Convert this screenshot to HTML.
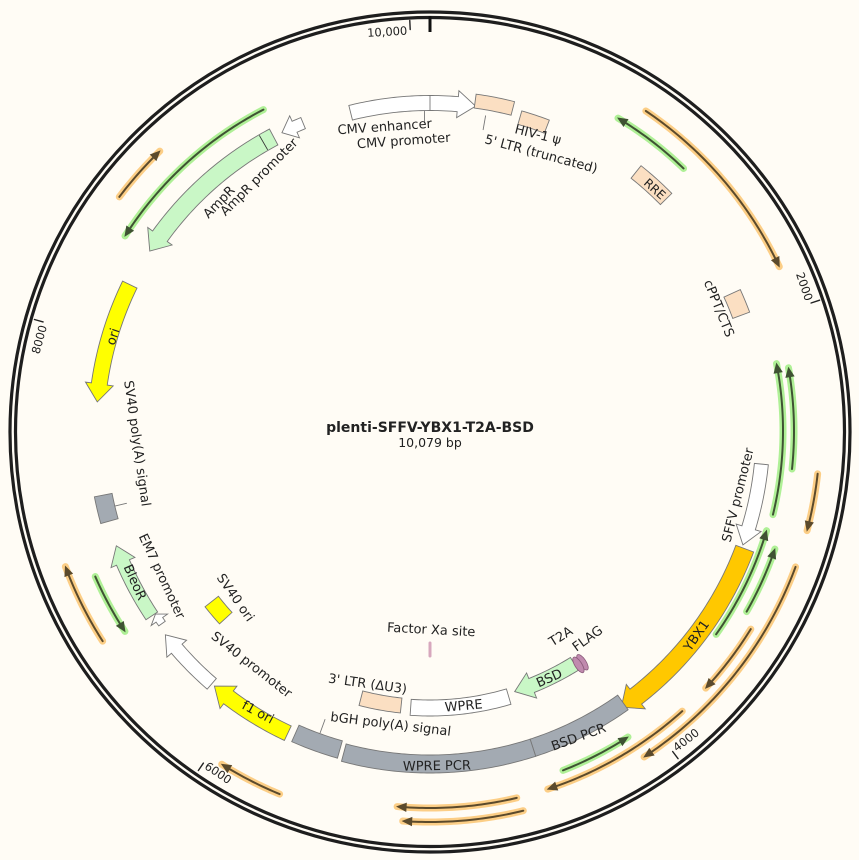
<!DOCTYPE html>
<html><head><meta charset="utf-8"><style>
html,body{margin:0;padding:0;background:#fffcf5;}
svg{display:block;font-family:"DejaVu Sans","Liberation Sans",sans-serif;}
text{font-size:13px;fill:#222;}
</style></head><body>
<svg id="s" width="859" height="860" viewBox="0 0 859 860" xmlns="http://www.w3.org/2000/svg">
<rect width="859" height="860" fill="#fffcf5"/>
<g id="g"></g>
<circle cx="430" cy="432" r="420" fill="none" stroke="#1e1e1e" stroke-width="3.2"/>
<circle cx="430" cy="432" r="414.5" fill="none" stroke="#1e1e1e" stroke-width="3.2"/>
<line x1="430" y1="16" x2="430" y2="32" stroke="#111" stroke-width="3"/>
<text style="font-size:11.5px" text-anchor="end" transform="translate(407.5,34.6) rotate(-3.25)">10,000</text>
<text style="font-size:11.5px" text-anchor="end" transform="translate(805.4,301.7) rotate(71)">2000</text>
<text style="font-size:11.5px" text-anchor="start" transform="translate(676.9,752) rotate(-37.57)">4000</text>
<text style="font-size:11.5px" text-anchor="start" transform="translate(203.8,768.1) rotate(33.86)">6000</text>
<text style="font-size:11.5px" text-anchor="end" transform="translate(47,326.4) rotate(-74.72)">8000</text>
<text x="430" y="432" text-anchor="middle" style="font-size:14px;font-weight:bold">plenti-SFFV-YBX1-T2A-BSD</text>
<text x="430" y="447" text-anchor="middle" style="font-size:12.5px">10,079 bp</text>

<text text-anchor="middle" transform="translate(385,131) rotate(-4)">CMV enhancer</text>
<text text-anchor="middle" transform="translate(404,145) rotate(-4)">CMV promoter</text>
<text transform="translate(514,133) rotate(14)">HIV-1 ψ</text>
<text transform="translate(484,143) rotate(15)">5' LTR (truncated)</text>
<text text-anchor="middle" transform="translate(652,192) rotate(42)" style="font-size:12px">RRE</text>
<text text-anchor="middle" transform="translate(715,310) rotate(68)">cPPT/CTS</text>
<text text-anchor="middle" transform="translate(742,496) rotate(-76)">SFFV promoter</text>
<text text-anchor="middle" transform="translate(700,638) rotate(-55)">YBX1</text>
<text text-anchor="middle" transform="translate(563,640) rotate(-32)">T2A</text>
<text text-anchor="middle" transform="translate(590,642) rotate(-36)">FLAG</text>
<text text-anchor="middle" transform="translate(551,682) rotate(-24)">BSD</text>
<text text-anchor="middle" transform="translate(464,710) rotate(-5)">WPRE</text>
<text text-anchor="middle" transform="translate(431,634) rotate(3)">Factor Xa site</text>
<text text-anchor="middle" transform="translate(367,688) rotate(8)">3' LTR (ΔU3)</text>
<text transform="translate(330,721) rotate(7)">bGH poly(A) signal</text>
<text text-anchor="middle" transform="translate(437,770) rotate(-1)">WPRE PCR</text>
<text text-anchor="middle" transform="translate(580,741) rotate(-20)">BSD PCR</text>
<text text-anchor="middle" transform="translate(256,716) rotate(28)">f1 ori</text>
<text text-anchor="middle" transform="translate(249,668) rotate(38)">SV40 promoter</text>
<text text-anchor="middle" transform="translate(232,600) rotate(55)">SV40 ori</text>
<text text-anchor="middle" transform="translate(158,578) rotate(65)">EM7 promoter</text>
<text text-anchor="middle" transform="translate(131,584) rotate(66)">BleoR</text>
<text text-anchor="middle" transform="translate(133,444) rotate(82)">SV40 poly(A) signal</text>
<text text-anchor="middle" transform="translate(117,338) rotate(-72)">ori</text>
<text text-anchor="middle" transform="translate(222,205) rotate(-46)">AmpR</text>
<text text-anchor="middle" transform="translate(262,180) rotate(-45)">AmpR promoter</text>
</svg>
<script>
var CX=430,CY=431,NS="http://www.w3.org/2000/svg",G=document.getElementById("g");
function P(a,r){var t=a*Math.PI/180;return [CX+r*Math.sin(t),CY-r*Math.cos(t)];}
function arcPts(a1,a2,r){var n=Math.max(2,Math.ceil(Math.abs(a2-a1)*2)),o=[];for(var i=0;i<=n;i++){o.push(P(a1+(a2-a1)*i/n,r));}return o;}
function el(t,at){var e=document.createElementNS(NS,t);for(var k in at)e.setAttribute(k,at[k]);G.appendChild(e);return e;}
function poly(pts,fill,stroke){el("path",{d:"M"+pts.map(function(p){return p[0].toFixed(2)+","+p[1].toFixed(2)}).join("L")+"Z",fill:fill,stroke:stroke||"#777","stroke-width":0.9});}
function feat(a1,a2,r,w,fill,arrow){
 var s=a2>a1?1:-1,pts;
 if(!arrow){pts=arcPts(a1,a2,r+w/2).concat(arcPts(a2,a1,r-w/2));}
 else{var L=Math.min(18,Math.abs(a2-a1)*Math.PI/180*r*0.6);var aH=a2-s*L/r*180/Math.PI;
  pts=arcPts(a1,aH,r+w/2).concat([P(aH,r+w/2+6),P(a2,r),P(aH,r-w/2-6)]).concat(arcPts(aH,a1,r-w/2));}
 poly(pts,fill);
}
function line(pts,stroke,w,op){el("path",{d:"M"+pts.map(function(p){return p[0].toFixed(2)+","+p[1].toFixed(2)}).join("L"),fill:"none",stroke:stroke,"stroke-width":w,"stroke-linecap":"round","stroke-opacity":op||1});}
function primer(a1,a2,r,c){
 var s=a2>a1?1:-1,glow=c=="o"?"#fcc97a":"#a6ee8c",dk=c=="o"?"#5b4a2c":"#3f5233";
 line(arcPts(a1,a2,r),glow,7,0.9);
 var aH=a2-s*9/r*180/Math.PI;
 line(arcPts(a1,aH,r),dk,2);
 poly([P(a2,r),P(aH,r+4),P(aH,r-4)],dk,dk);
}
[2000,4000,6000,8000,10000].forEach(function(v){var a=v/10079*360;line([P(a,411),P(a,402)],"#222",1.4);});
var W="#ffffff",PE="#fbdfc2",GR="#a3aab2",LG="#c9f7c6",Y="#ffff00";
feat(-14,8,328,15,W,true);
line([P(0,320.5),P(0,335.5)],"#777",0.9);
line([P(10,320),P(10,306)],"#777",0.9);
line([P(-1,320),P(-1,308)],"#777",0.9);
feat(7.8,14.4,333,14,PE,false);
feat(16,21,326,14,PE,false);
feat(38.5,45.5,331,16,PE,false);
feat(65.5,69.6,332,18,PE,false);
feat(95.7,110,333,14,W,true);
feat(110.5,145.3,336,19,"#ffc800",true);
feat(148.2,162,274,15,LG,true);
feat(163.5,184,277,16,W,false);
feat(186,194.5,276,15,PE,false);
line([P(180,212),P(180,225)],"#d7a7bd",3);
feat(144.6,162,333,18,GR,false);
feat(162,195,333,18,GR,false);
feat(195.8,204,331,18,GR,false);
line([P(200,321),P(200,307)],"#777",0.9);
feat(205.2,220.2,334,16,Y,true);
feat(220.8,232.4,334,14,W,true);
feat(234.3,236.3,330,8,W,true);
feat(236.4,249.9,334,14,LG,true);
feat(227.5,232,277,17,Y,false);
feat(254.3,258.9,333,18,GR,false);
line([P(256.6,324),P(256.6,312)],"#777",0.9);
feat(296,275,334,16,Y,true);
feat(332,302.7,333,18,LG,true);
line([P(330,325),P(330,341)],"#333",0.9);
feat(337.6,333.6,333,12,W,true);
[146.6,147.6].forEach(function(a){var p=P(a,277);el("ellipse",{cx:p[0],cy:p[1],rx:3.5,ry:9,fill:"#c08aae",stroke:"#8a5a7a","stroke-width":0.8,transform:"rotate("+(a-180)+" "+p[0]+" "+p[1]+")"});});
primer(103.7,79,353,"g");primer(96,80,364,"g");primer(96.3,104.8,390,"o");
primer(125.4,106.5,351,"g");primer(119.7,108.9,364.5,"g");primer(110.4,146.7,390,"o");
primer(121.7,133,377,"o");primer(138,161.8,377,"o");primer(158.6,147.1,364.5,"g");
primer(166.7,185,377,"o");primer(166.2,184,391,"o");
primer(237.3,249.6,389,"o");primer(246.5,236.7,365,"g");primer(202.5,212,393,"o");
primer(307,316,389,"o");primer(332.6,302.6,362,"g");
primer(44,31,365,"g");primer(34,64.8,386,"o");
</script>
</body></html>
